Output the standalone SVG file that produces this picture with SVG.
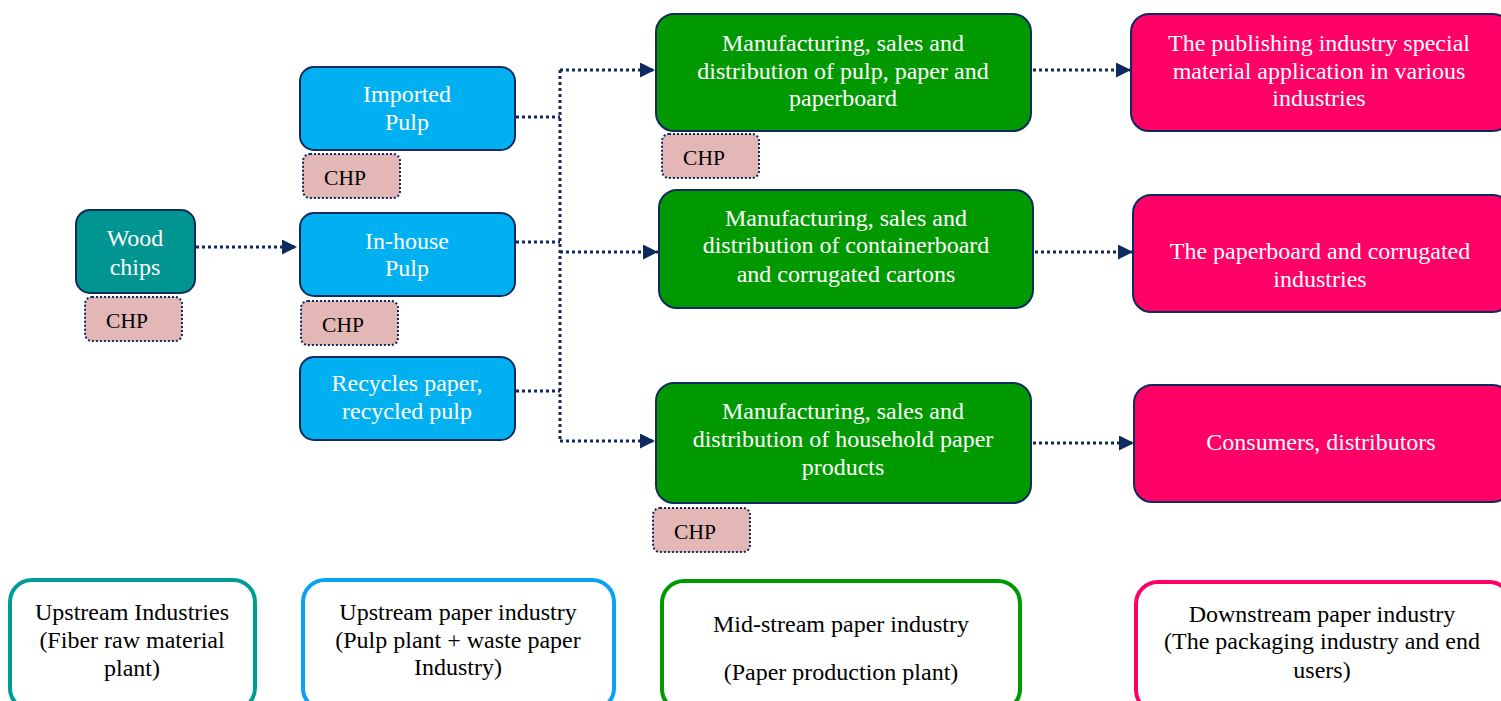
<svg xmlns="http://www.w3.org/2000/svg" width="1501" height="701" viewBox="0 0 1501 701">
<style>
text{font-family:"Liberation Serif","Times New Roman",serif;font-size:24px;text-anchor:middle}
.w{fill:#ffffff}
.k{fill:#000000}
.s{font-size:21.5px}
.box{stroke:#0f2a5e;stroke-width:2}
.teal{fill:#009591}
.blue{fill:#00b0f0}
.green{fill:#009a00}
.pink{fill:#ff0066}
.chp{fill:#e3b7b6;stroke:#0f2a5e;stroke-width:2;stroke-dasharray:2 2}
.leg{fill:#ffffff;stroke-width:4}
.c{fill:none;stroke:#0f2a5e;stroke-width:3;stroke-dasharray:3 3}
</style>
<defs>
<marker id="ar" viewBox="0 0 10 10" refX="10" refY="5" markerWidth="5" markerHeight="5" markerUnits="strokeWidth" orient="auto">
<path d="M0,0 L10,5 L0,10 Z" fill="#0f2a5e"/>
</marker>
</defs>
<rect width="1501" height="701" fill="#ffffff"/>
<g id="connectors">
<path class="c" d="M196,247 H297" marker-end="url(#ar)"/>
<path class="c" d="M516,117 H560"/>
<path class="c" d="M516,242 H560"/>
<path class="c" d="M516,391 H560"/>
<path class="c" d="M560,70 V441"/>
<path class="c" d="M560,70 H655" marker-end="url(#ar)"/>
<path class="c" d="M560,252 H658" marker-end="url(#ar)"/>
<path class="c" d="M560,441 H655" marker-end="url(#ar)"/>
<path class="c" d="M1033,70 H1131" marker-end="url(#ar)"/>
<path class="c" d="M1035,252 H1133" marker-end="url(#ar)"/>
<path class="c" d="M1033,443 H1134" marker-end="url(#ar)"/>
</g>
<g id="wood">
<rect class="box teal" x="76" y="210" width="119" height="83" rx="14"/>
<text class="w" x="135" y="246">Wood</text>
<text class="w" x="135" y="275">chips</text>
</g>
<g id="chp1"><rect class="chp" x="85" y="297" width="97" height="44" rx="7"/><text class="k s" x="127" y="328">CHP</text></g>
<g id="imported">
<rect class="box blue" x="300" y="67" width="215" height="83" rx="14"/>
<text class="w" x="407" y="102">Imported</text>
<text class="w" x="407" y="130">Pulp</text>
</g>
<g id="chp2"><rect class="chp" x="303" y="154" width="97" height="44" rx="7"/><text class="k s" x="345" y="185">CHP</text></g>
<g id="inhouse">
<rect class="box blue" x="300" y="213" width="215" height="83" rx="14"/>
<text class="w" x="407" y="249">In-house</text>
<text class="w" x="407" y="276">Pulp</text>
</g>
<g id="chp3"><rect class="chp" x="301" y="301" width="97" height="44" rx="7"/><text class="k s" x="343" y="332">CHP</text></g>
<g id="recycled">
<rect class="box blue" x="300" y="357" width="215" height="83" rx="14"/>
<text class="w" x="407" y="391">Recycles paper,</text>
<text class="w" x="407" y="419">recycled pulp</text>
</g>
<g id="mfg1">
<rect class="box green" x="656" y="14" width="375" height="117" rx="18"/>
<text class="w" x="843" y="51">Manufacturing, sales and</text>
<text class="w" x="843" y="79">distribution of pulp, paper and</text>
<text class="w" x="843" y="106">paperboard</text>
</g>
<g id="chp4"><rect class="chp" x="662" y="134" width="97" height="44" rx="7"/><text class="k s" x="704" y="165">CHP</text></g>
<g id="mfg2">
<rect class="box green" x="659" y="190" width="374" height="118" rx="18"/>
<text class="w" x="846" y="226">Manufacturing, sales and</text>
<text class="w" x="846" y="253">distribution of containerboard</text>
<text class="w" x="846" y="282">and corrugated cartons</text>
</g>
<g id="mfg3">
<rect class="box green" x="656" y="383" width="375" height="120" rx="18"/>
<text class="w" x="843" y="419">Manufacturing, sales and</text>
<text class="w" x="843" y="447">distribution of household paper</text>
<text class="w" x="843" y="475">products</text>
</g>
<g id="chp5"><rect class="chp" x="653" y="508" width="97" height="44" rx="7"/><text class="k s" x="695" y="539">CHP</text></g>
<g id="down1">
<rect class="box pink" x="1131" y="14" width="380" height="117" rx="18"/>
<text class="w" x="1319" y="51">The publishing industry special</text>
<text class="w" x="1319" y="79">material application in various</text>
<text class="w" x="1319" y="106">industries</text>
</g>
<g id="down2">
<rect class="box pink" x="1133" y="195" width="378" height="117" rx="18"/>
<text class="w" x="1320" y="259">The paperboard and corrugated</text>
<text class="w" x="1320" y="287">industries</text>
</g>
<g id="down3">
<rect class="box pink" x="1134" y="385" width="377" height="117" rx="18"/>
<text class="w" x="1321" y="450">Consumers, distributors</text>
</g>
<g id="leg1">
<rect class="leg" stroke="#009b95" x="10" y="580" width="245" height="130" rx="22"/>
<text class="k" x="132" y="620">Upstream Industries</text>
<text class="k" x="132" y="648">(Fiber raw material</text>
<text class="k" x="132" y="676">plant)</text>
</g>
<g id="leg2">
<rect class="leg" stroke="#0aa0f5" x="303" y="580" width="311" height="130" rx="22"/>
<text class="k" x="458" y="620">Upstream paper industry</text>
<text class="k" x="458" y="648">(Pulp plant + waste paper</text>
<text class="k" x="458" y="675">Industry)</text>
</g>
<g id="leg3">
<rect class="leg" stroke="#009900" x="662" y="581" width="358" height="130" rx="22"/>
<text class="k" x="841" y="632">Mid-stream paper industry</text>
<text class="k" x="841" y="680">(Paper production plant)</text>
</g>
<g id="leg4">
<rect class="leg" stroke="#ff0066" x="1136" y="582" width="375" height="130" rx="22"/>
<text class="k" x="1322" y="622">Downstream paper industry</text>
<text class="k" x="1322" y="649">(The packaging industry and end</text>
<text class="k" x="1322" y="678">users)</text>
</g>
</svg>
